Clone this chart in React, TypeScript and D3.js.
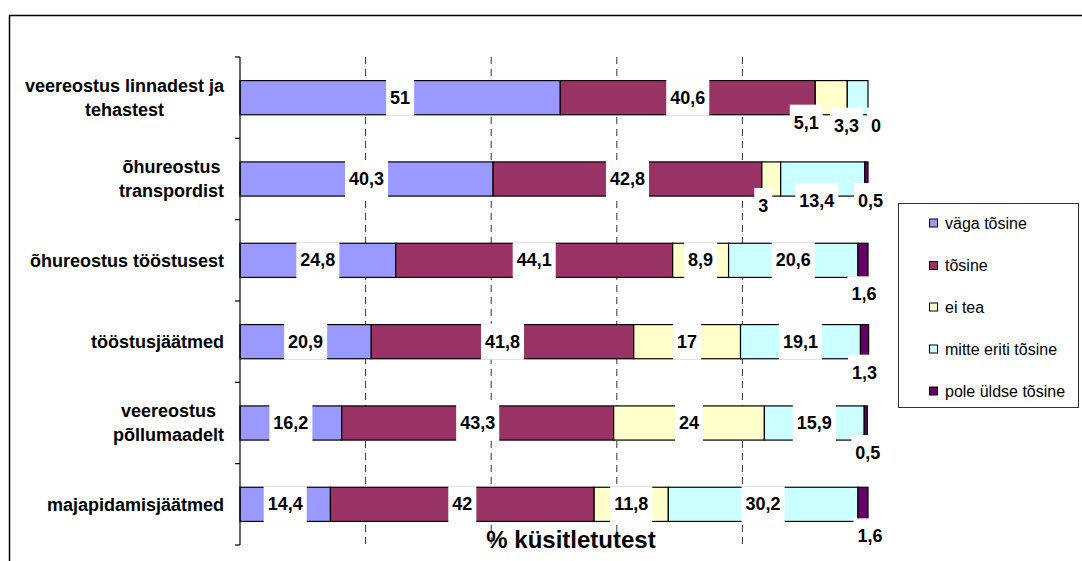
import React from "react";
import * as d3 from "d3";

const categories = [
  "veereostus linnadest ja\ntehastest",
  "õhureostus\ntranspordist",
  "õhureostus tööstusest",
  "tööstusjäätmed",
  "veereostus\npõllumaadelt",
  "majapidamisjäätmed",
];
const seriesNames = ["väga tõsine", "tõsine", "ei tea", "mitte eriti tõsine", "pole üldse tõsine"];
const vagaTosine = [51, 40.3, 24.8, 20.9, 16.2, 14.4];
const tosine = [40.6, 42.8, 44.1, 41.8, 43.3, 42];
const eiTea = [5.1, 3, 8.9, 17, 24, 11.8];
const mitteEriti = [3.3, 13.4, 20.6, 19.1, 15.9, 30.2];
const pole = [0, 0.5, 1.6, 1.3, 0.5, 1.6];
const xTicks = [20, 40, 60, 80];
const axisTitle = "% küsitletutest";

const colors = ["#9999FF", "#993366", "#FFFFCC", "#CCFFFF", "#660066"];

// label nudges (layout only): key "row-series" -> [dx, dy]
const nudges: Record<string, [number, number]> = {
  "0-2": [-25, 25], "0-3": [-11, 28], "0-4": [8, 28],
  "1-2": [-8, 27], "1-3": [-6, 22], "1-4": [4, 22],
  "2-4": [1, 34], "3-4": [0, 31], "4-4": [2, 30], "5-4": [7, 32],
};

let ctx: CanvasRenderingContext2D | null = null;
function measure(text: string, font: string) {
  if (!ctx) ctx = document.createElement("canvas").getContext("2d");
  if (!ctx) return text.length * 9;
  ctx.font = font;
  return ctx.measureText(text).width;
}

const FONT = "'Liberation Sans', Arial, sans-serif";

export default function App() {
  const W = 1082, H = 561;
  const x = d3.scaleLinear().domain([0, 100]).range([240, 868]);
  const y = d3.scaleBand<number>().domain(d3.range(categories.length)).range([57, 545]).paddingInner(0.58).paddingOuter(0.29);
  const bandEdges = d3.range(categories.length + 1).map((i) => 57 + (i * (545 - 57)) / categories.length);
  const series = [vagaTosine, tosine, eiTea, mitteEriti, pole];
  const table = categories.map((c, i) => {
    const o: any = { i };
    series.forEach((s, k) => (o["s" + k] = s[i]));
    return o;
  });
  const stack = d3.stack<any>().keys(series.map((_, k) => "s" + k))(table);

  const labelFont = `bold 18px ${FONT}`;
  const labels: any[] = [];
  stack.forEach((layer, k) => {
    layer.forEach((d, i) => {
      const v = series[k][i];
      const nd = nudges[`${i}-${k}`] || [0, 0];
      const cx = (x(d[0]) + x(d[1])) / 2 + nd[0];
      const cy = (y(i) as number) + y.bandwidth() / 2 + nd[1];
      const txt = String(v).replace(".", ",");
      const w = measure(txt, labelFont) + 8;
      labels.push({ cx, cy, txt, w, key: `${i}-${k}` });
    });
  });

  const catFont = `bold 18px ${FONT}`;
  const legendY = [223, 265.5, 307, 349, 391];

  return (
    <svg width={W} height={H} style={{ position: "absolute", left: 0, top: 0, background: "#fff" }} fontFamily={FONT}>
      <rect x={0} y={0} width={W} height={H} fill="#fff" />
      <rect x={9.5} y={15.5} width={1200} height={700} fill="none" stroke="#000" strokeWidth={1.5} />
      {/* gridlines */}
      {xTicks.map((t) => (
        <line key={t} x1={x(t)} x2={x(t)} y1={57} y2={545} stroke="#333" strokeWidth={1} strokeDasharray="7,5" />
      ))}
      {/* bars */}
      {stack.map((layer, k) =>
        layer.map((d, i) => (
          <rect
            key={`${k}-${i}`}
            x={x(d[0])}
            y={y(i)}
            width={Math.max(0, x(d[1]) - x(d[0]))}
            height={y.bandwidth()}
            fill={colors[k]}
            stroke="#000"
            strokeWidth={1.2}
          />
        ))
      )}
      {/* axis */}
      <line x1={240} x2={240} y1={57} y2={545} stroke="#000" strokeWidth={1.2} />
      {bandEdges.map((e, i) => (
        <line key={i} x1={235} x2={240} y1={e} y2={e} stroke="#000" strokeWidth={1.2} />
      ))}
      {/* data labels */}
      {labels.map((l) => (
        <rect key={"b" + l.key} x={l.cx - l.w / 2} y={l.cy - 18} width={l.w} height={36} fill="#fff" />
      ))}
      {labels.map((l) => (
        <text key={"t" + l.key} x={l.cx} y={l.cy} dy="0.33em" textAnchor="middle" fontWeight="bold" fontSize={18} fill="#000">
          {l.txt}
        </text>
      ))}
      {/* category labels */}
      {categories.map((c, i) => {
        const lines = c.split("\n");
        const maxW = Math.max(...lines.map((ln) => measure(ln, catFont)));
        const cx = 224 - maxW / 2;
        const cy = (y(i) as number) + y.bandwidth() / 2;
        const lh = 24;
        const y0 = cy - ((lines.length - 1) * lh) / 2;
        return (
          <text key={i} textAnchor="middle" fontWeight="bold" fontSize={18} fill="#000">
            {lines.map((ln, j) => (
              <tspan key={j} x={cx} y={y0 + j * lh} dy="0.35em">
                {ln}
              </tspan>
            ))}
          </text>
        );
      })}
      {/* axis title */}
      <text x={571} y={548} textAnchor="middle" fontWeight="bold" fontSize={24} fill="#000">
        {axisTitle}
      </text>
      {/* legend */}
      <rect x={898.5} y={203.5} width={180} height={204} fill="#fff" stroke="#333" strokeWidth={1} />
      {seriesNames.map((n, k) => (
        <g key={n}>
          <rect x={929.5} y={legendY[k] - 4} width={8} height={8} fill={colors[k]} stroke="#000" strokeWidth={1} />
          <text x={945} y={legendY[k]} dy="0.35em" fontSize={16} fill="#000">
            {n}
          </text>
        </g>
      ))}
    </svg>
  );
}
